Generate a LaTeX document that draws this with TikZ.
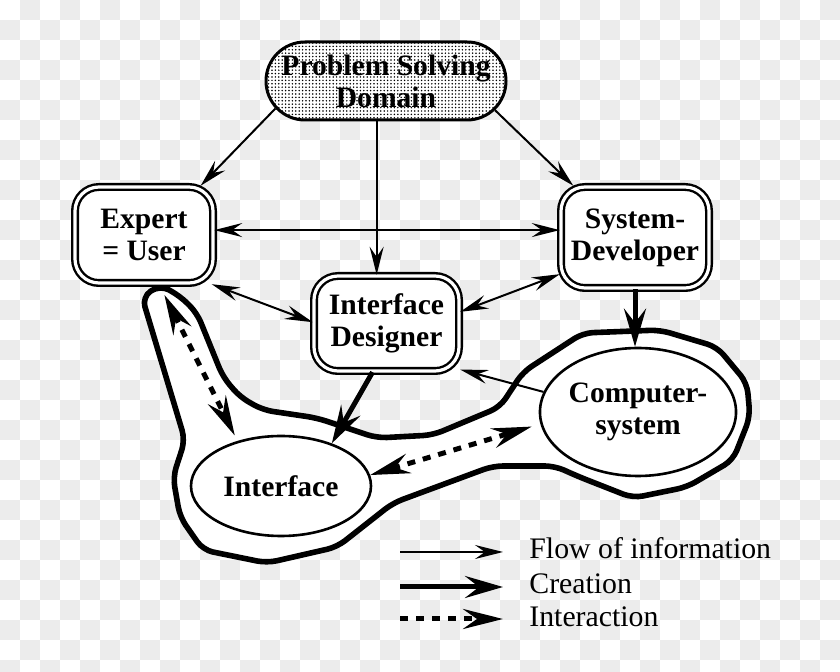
\documentclass[tikz,border=0pt]{standalone}
\usepackage{fontspec}
\setmainfont{Liberation Serif}
\usepackage{tikz}
\usetikzlibrary{arrows.meta, positioning, shapes.geometric, shapes.misc, patterns}
\definecolor{checkgray}{RGB}{236,236,236}
\pgfdeclarepatternformonly{finedots}{\pgfpoint{-0.5pt}{-0.5pt}}{\pgfpoint{0.5pt}{0.5pt}}{\pgfpoint{1.7pt}{1.7pt}}%
  {\pgfpathcircle{\pgfpointorigin}{0.42pt}\pgfusepath{fill}}
\tikzset{
  labelfont/.style={font=\fontsize{14.8}{16}\selectfont\bfseries},
  domainbox/.style={rounded rectangle, draw, line width=1.5pt, preaction={fill=white},
              pattern=finedots, minimum width=124pt, minimum height=39pt,
              align=center, labelfont, inner sep=2pt},
  rolebox/.style={rectangle, rounded corners=12pt, draw, line width=1.2pt,
              double=white, double distance=1.6pt, fill=white,
              align=center, labelfont, inner sep=2pt},
  partbox/.style={ellipse, draw, line width=1.3pt, fill=white,
              align=center, labelfont, inner sep=0pt},
  legendtext/.style={anchor=base west, inner sep=0pt, font=\fontsize{14.9}{18}\selectfont},
  blobline/.style={line width=2.8pt, fill=white, rounded corners=5pt, line join=round},
  flowarrow/.style={-{Stealth[length=14pt, width=7pt, inset=5pt]}, line width=1pt},
  flowboth/.style={{Stealth[length=14pt, width=7pt, inset=5pt]}-{Stealth[length=14pt, width=7pt, inset=5pt]}, line width=1pt},
  createarrow/.style={-{Stealth[length=19pt, width=11pt, inset=7pt]}, line width=2.5pt},
  interarrow/.style={-{Stealth[length=20pt, width=10pt, inset=7pt]}, line width=2.5pt, dash pattern=on 4pt off 4pt},
  interboth/.style={{Stealth[length=20pt, width=10pt, inset=7pt]}-{Stealth[length=20pt, width=10pt, inset=7pt]}, line width=2.5pt, dash pattern=on 4pt off 4pt},
}

\begin{document}
\begin{tikzpicture}[x=0.5pt, y=-0.5pt]
  \useasboundingbox (0,0) rectangle (840,672);
  % checkered backdrop
  \foreach \a in {0,...,20} {
    \foreach \b in {0,...,16} {
      \fill[checkgray] (40*\a+20,40*\b) rectangle ++(20,20);
      \fill[checkgray] (40*\a,40*\b+20) rectangle ++(20,20);
    }
  }

  % the system boundary
  \draw[blobline] (160,285) -- (180,296) -- (197,313) -- (210,345) -- (223,377) -- (240,397)
    -- (263,410) -- (317,418) -- (377,438) -- (433,435) -- (500,407) -- (523,372)
    -- (583,333) -- (660,330) -- (717,347) -- (747,383) -- (750,417) -- (733,460)
    -- (687,487) -- (633,498) -- (577,476) -- (555,466) -- (493,466) -- (393,503)
    -- (337,547) -- (267,563) -- (203,550) -- (180,517) -- (173,477) -- (185,440)
    -- (142,297) -- cycle;

  \node[domainbox] (psd) at (386,81) {Problem Solving\\Domain};
  \node[rolebox, minimum width=69pt, minimum height=48pt] (expert) at (144,235) {Expert\\= User};
  \node[rolebox, minimum width=74pt, minimum height=50.5pt] (sd) at (635,237.5) {System-\\Developer};
  \node[rolebox, minimum width=72.5pt, minimum height=47.5pt] (id) at (386.5,323.5) {Interface\\Designer};
  \node[partbox, minimum width=90pt, minimum height=50pt] (iface) at (281,486) {Interface};
  \node[partbox, minimum width=92.5pt, minimum height=64pt] (cs) at (638,412) {Computer-\\system};

  \draw[flowarrow] (psd.194) -- (expert.41);
  \draw[flowarrow] (psd.345) -- (sd.140);
  \draw[flowarrow] (psd.257) -- (psd.257 |- id.north);
  \draw[flowboth] (expert.4) -- (expert.4 -| sd.west);
  \draw[flowboth] (expert.324) -- (id.179);
  \draw[flowboth] (sd.206) -- (id.9);
  \draw[flowarrow] (cs.168) -- (id.328);
  \draw[createarrow] (sd.south) -- (sd.south |- cs.north);
  \draw[createarrow] (id.254) -- (iface.40);
  \draw[interboth, shorten <=6pt, shorten >=3pt] (expert.287) -- (iface.134);
  \draw[interboth, shorten >=4.5pt] (iface.7) -- (cs.187);

  % legend
  \coordinate (flowtail) at (400,552);
  \coordinate (flowhead) at (503,552);
  \coordinate (createtail) at (400,587);
  \coordinate (createhead) at (503,587);
  \coordinate (intertail) at (400,619);
  \coordinate (interhead) at (503,619);
  \draw[flowarrow] (flowtail) -- (flowhead);
  \draw[createarrow] (createtail) -- (createhead);
  \draw[interarrow] (intertail) -- (interhead);
  \node[legendtext] (flowtext) at (529,559) {Flow of information};
  \node[legendtext] (createtext) at (529,594) {Creation};
  \node[legendtext] (intertext) at (529,627) {Interaction};
\end{tikzpicture}
\end{document}
